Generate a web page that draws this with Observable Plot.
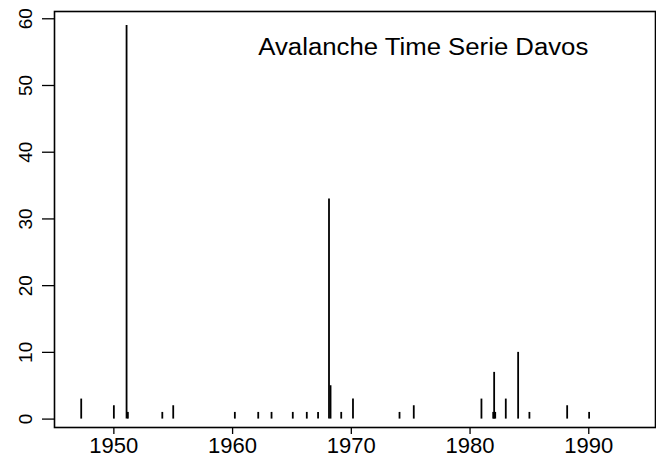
<!DOCTYPE html>
<html>
<head>
<meta charset="utf-8">
<script src="https://cdn.jsdelivr.net/npm/d3@7"></script>
<script src="https://cdn.jsdelivr.net/npm/@observablehq/plot@0.6"></script>
<style>
  html, body { margin: 0; padding: 0; background: #fff; }
  svg { display: block; }
</style>
</head>
<body>
<div id="chart"></div>
<script>
// Avalanche events: year (decimal) and count
const years = [1947.25, 1950.0, 1951.07, 1951.18, 1954.08, 1955.0, 1960.19, 1962.16, 1963.28,
  1965.07, 1966.25, 1967.2, 1968.12, 1968.25, 1969.15, 1970.14, 1974.06, 1975.26,
  1980.96, 1981.95, 1982.03, 1982.12, 1983.01, 1984.05, 1985.0, 1988.18, 1990.03];
const counts = [3, 2, 59, 1, 1, 2, 1, 1, 1,
  1, 1, 1, 33, 5, 1, 3, 1, 2,
  3, 1, 7, 1, 3, 10, 1, 2, 1];
const xTicks = [1950, 1960, 1970, 1980, 1990];
const yTicks = [0, 10, 20, 30, 40, 50, 60];
const title = "Avalanche Time Serie Davos";

const data = years.map((y, i) => ({year: y, count: counts[i]}));

const font = "'Liberation Sans', Arial, Helvetica, sans-serif";

const chart = Plot.plot({
  width: 656,
  height: 457,
  marginLeft: 54,
  marginRight: 1,
  marginTop: 11,
  marginBottom: 30,
  style: {fontFamily: font, background: "#fff", color: "#000"},
  x: {domain: [1945.0, 1995.62]},
  y: {domain: [-1.26, 61.09]},
  marks: [
    Plot.ruleX(data, {x: "year", y1: 0, y2: "count", stroke: "#000", strokeWidth: 1.8}),
    Plot.frame({stroke: "#000", strokeWidth: 1.6}),
    Plot.axisX({ticks: xTicks, tickSize: 7, tickFormat: () => "", label: null, stroke: "#000", strokeWidth: 1.3}),
    Plot.axisY({ticks: yTicks, tickSize: 12, tickFormat: () => "", label: null, stroke: "#000", strokeWidth: 1.3}),
    Plot.text(xTicks, {x: d => d, text: d => String(d), frameAnchor: "bottom", dy: 25.8, lineAnchor: "bottom", fontSize: 22, fill: "#000"}),
    Plot.text(yTicks, {y: d => d, text: d => String(d), frameAnchor: "left", textAnchor: "middle", dx: -29, rotate: -90, fontSize: 19, fill: "#000"}),
    Plot.text([title], {frameAnchor: "top", dx: 68.3, dy: 43, lineAnchor: "bottom", fontSize: 23, fill: "#000"})
  ]
});
document.getElementById("chart").appendChild(chart);
// widen glyphs slightly to match the reference's proportions
const xLabelSet = new Set(xTicks.map(String));
d3.select(chart).selectAll("text").each(function() {
  const t = this.textContent;
  if (xLabelSet.has(t)) {
    this.style.fontSize = "22px";
    this.setAttribute("textLength", 49);
    this.setAttribute("lengthAdjust", "spacingAndGlyphs");
  } else if (t === title) {
    this.style.fontSize = "23px";
    this.setAttribute("textLength", 330);
    this.setAttribute("lengthAdjust", "spacingAndGlyphs");
  }
});
</script>
</body>
</html>
